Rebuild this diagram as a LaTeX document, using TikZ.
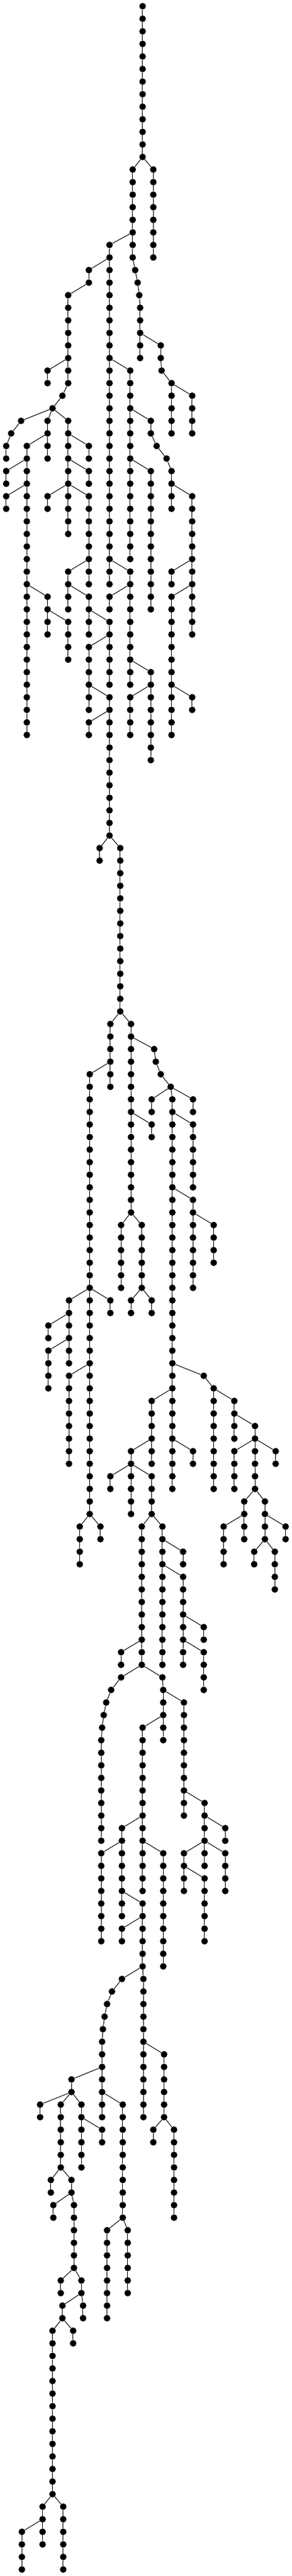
\documentclass[tikz,border=0pt]{standalone}

\tikzset{
  dot/.style={circle,fill=black,inner sep=0pt,minimum size=10.7pt},
  link/.style={line width=1pt}
}

% name, parent, x, first level, last level
\newcommand{\chain}[5]{
  \node[dot] (#1-#4) at (#3,#4) {};
  \ifx\relax#2\relax\else\draw[link] (#2) -- (#1-#4);\fi
  \foreach \lev [remember=\lev as \prv (initially #4)] in {#4,...,#5}{
    \ifnum\lev>#4
      \node[dot] (#1-\lev) at (#3,\lev) {};
      \draw[link] (#1-\prv) -- (#1-\lev);
    \fi
  }
}

\begin{document}
\begin{tikzpicture}[x=0.33333pt,y=-20.267pt]

\useasboundingbox (0,-0.493) rectangle (1413,204.52);

%top part
\chain{s1}{}{690}{0}{12}
\chain{s2}{s1-12}{642}{13}{20}
\chain{s3}{s1-12}{742}{13}{20}
\chain{s4}{s2-20}{654}{21}{21}
\chain{s5}{s4-21}{666}{22}{22}
\chain{s6}{s5-22}{674}{23}{23}
\chain{s7}{s6-23}{678}{24}{28}
\chain{s8}{s7-26}{778}{27}{28}
\chain{s9}{s8-28}{782}{29}{29}
\chain{s10}{s9-29}{830}{30}{34}
\chain{s11}{s10-30}{930}{31}{34}
\chain{s12}{s2-18}{530}{19}{46}
\chain{s13}{s12-20}{430}{21}{22}
\chain{s14}{s13-22}{330}{23}{30}
\chain{s15}{s14-28}{230}{29}{30}
\chain{s16}{s14-30}{302}{31}{31}
\chain{s17}{s16-31}{254}{32}{32}
\chain{s18}{s17-32}{102}{33}{33}
\chain{s19}{s18-33}{54}{34}{34}
\chain{s20}{s19-34}{30}{35}{36}
\chain{s21}{s17-32}{230}{33}{36}
\chain{s22}{s21-34}{130}{35}{58}
\chain{s23}{s22-36}{30}{37}{38}
\chain{s24}{s22-38}{30}{39}{40}
\chain{s25}{s22-46}{230}{47}{50}
\chain{s26}{s25-48}{330}{49}{52}
\chain{s27}{s17-32}{330}{33}{42}
\chain{s28}{s27-34}{430}{35}{36}
\chain{s29}{s27-36}{430}{37}{38}
\chain{s30}{s27-38}{230}{39}{40}
\chain{s31}{s27-38}{430}{39}{46}
\chain{s32}{s31-44}{330}{45}{48}
\chain{s33}{s32-46}{430}{47}{50}
\chain{s34}{s33-48}{530}{49}{54}
\chain{s35}{s34-50}{430}{51}{56}
\chain{s36}{s35-54}{530}{55}{66}
\chain{s37}{s36-56}{430}{57}{58}
\chain{s38}{s36-66}{482}{67}{68}
\chain{s39}{s36-66}{582}{67}{80}
\chain{s40}{s12-28}{630}{29}{44}
\chain{s41}{s40-32}{730}{33}{34}
\chain{s42}{s41-34}{758}{35}{35}
\chain{s43}{s42-35}{806}{36}{36}
\chain{s44}{s43-36}{830}{37}{40}
\chain{s45}{s44-38}{930}{39}{50}
\chain{s46}{s45-44}{830}{45}{46}
\chain{s47}{s45-46}{830}{47}{58}
\chain{s48}{s47-54}{930}{55}{56}
\chain{s49}{s40-36}{730}{37}{48}
\chain{s50}{s12-44}{630}{45}{54}
\chain{s51}{s50-46}{530}{47}{48}
\chain{s52}{s50-52}{730}{53}{60}
\chain{s53}{s52-54}{630}{55}{58}

%middle part
\chain{s54}{s39-80}{534}{81}{86}
\chain{s55}{s54-84}{434}{85}{102}
\chain{s56}{s39-80}{634}{81}{96}
\chain{s57}{s56-82}{746}{83}{83}
\chain{s58}{s57-83}{754}{84}{84}
\chain{s59}{s58-84}{778}{85}{85}
\chain{s60}{s59-85}{826}{86}{86}
\chain{s61}{s60-86}{734}{87}{88}
\chain{s62}{s60-86}{834}{87}{118}
\chain{s63}{s60-86}{934}{87}{88}
\chain{s64}{s56-88}{734}{89}{90}
\chain{s65}{s56-96}{586}{97}{102}
\chain{s66}{s56-96}{686}{97}{102}
\chain{s67}{s66-102}{634}{103}{104}
\chain{s68}{s66-102}{734}{103}{104}
\chain{s69}{s62-88}{934}{89}{94}
\chain{s70}{s62-94}{934}{95}{102}
\chain{s71}{s70-96}{1034}{97}{100}
\chain{s72}{s55-102}{334}{103}{108}
\chain{s73}{s55-102}{434}{103}{120}
\chain{s74}{s55-102}{534}{103}{104}
\chain{s75}{s72-104}{234}{105}{106}
\chain{s76}{s72-106}{234}{107}{110}
\chain{s77}{s73-108}{334}{109}{116}
\chain{s78}{s73-120}{386}{121}{124}
\chain{s79}{s73-120}{486}{121}{122}
\chain{s80}{s62-108}{986}{109}{109}
\chain{s81}{s80-109}{1034}{110}{118}
\chain{s82}{s81-110}{1134}{111}{114}
\chain{s83}{s82-112}{1234}{113}{118}
\chain{s84}{s83-114}{1134}{115}{118}
\chain{s85}{s83-114}{1334}{115}{116}
\chain{s86}{s83-118}{1182}{119}{122}
\chain{s87}{s83-118}{1282}{119}{122}
\chain{s88}{s86-120}{1082}{121}{124}
\chain{s89}{s87-120}{1382}{121}{122}
\chain{s90}{s87-122}{1230}{123}{124}
\chain{s91}{s87-122}{1330}{123}{126}
\chain{s92}{s62-110}{734}{111}{116}
\chain{s93}{s62-114}{934}{115}{116}
\chain{s94}{s92-114}{634}{115}{120}
\chain{s95}{s94-116}{534}{117}{118}
\chain{s96}{s94-116}{734}{117}{120}

%lower part
\chain{s97}{s96-120}{686}{121}{132}
\chain{s98}{s96-120}{786}{121}{132}
\chain{s99}{s97-130}{586}{131}{132}
\chain{s100}{s98-122}{886}{123}{124}
\chain{s101}{s98-124}{886}{125}{132}
\chain{s102}{s101-128}{986}{129}{130}
\chain{s103}{s101-130}{986}{131}{134}
\chain{s104}{s97-132}{586}{133}{133}
\chain{s105}{s97-132}{786}{133}{133}
\chain{s106}{s104-133}{538}{134}{134}
\chain{s107}{s106-134}{514}{135}{135}
\chain{s108}{s107-135}{502}{136}{136}
\chain{s109}{s108-136}{494}{137}{137}
\chain{s110}{s109-137}{490}{138}{146}
\chain{s111}{s105-133}{790}{134}{138}
\chain{s112}{s111-134}{890}{135}{144}
\chain{s113}{s111-136}{690}{137}{150}
\chain{s114}{s113-144}{590}{145}{152}
\chain{s115}{s114-146}{490}{147}{154}
\chain{s116}{s114-150}{690}{151}{156}
\chain{s117}{s116-152}{590}{153}{154}
\chain{s118}{s113-146}{790}{147}{156}
\chain{s119}{s112-142}{990}{143}{148}
\chain{s120}{s119-144}{1090}{145}{146}
\chain{s121}{s119-146}{890}{147}{150}
\chain{s122}{s119-146}{1090}{147}{150}
\chain{s123}{s121-148}{990}{149}{154}
\chain{s124}{s116-156}{590}{157}{157}
\chain{s125}{s124-157}{542}{158}{158}
\chain{s126}{s125-158}{518}{159}{159}
\chain{s127}{s126-159}{506}{160}{160}
\chain{s128}{s127-160}{498}{161}{161}
\chain{s129}{s128-161}{494}{162}{168}
\chain{s130}{s116-156}{694}{157}{168}
\chain{s131}{s130-162}{794}{163}{168}
\chain{s132}{s131-168}{742}{169}{170}
\chain{s133}{s131-168}{842}{169}{176}
\chain{s134}{s129-164}{346}{165}{166}
\chain{s135}{s134-166}{194}{167}{168}
\chain{s136}{s134-166}{294}{167}{172}
\chain{s137}{s134-166}{394}{167}{172}
\chain{s138}{s137-168}{494}{169}{170}
\chain{s139}{s129-166}{594}{167}{176}
\chain{s140}{s139-176}{518}{177}{184}
\chain{s141}{s139-176}{618}{177}{182}
\chain{s142}{s136-172}{246}{173}{174}
\chain{s143}{s136-172}{346}{173}{174}
\chain{s144}{s143-174}{258}{175}{176}
\chain{s145}{s143-174}{358}{175}{180}
\chain{s146}{s145-180}{294}{181}{182}
\chain{s147}{s145-180}{394}{181}{182}
\chain{s148}{s147-182}{302}{183}{184}
\chain{s149}{s147-182}{402}{183}{184}
\chain{s150}{s148-184}{254}{185}{198}
\chain{s151}{s148-184}{354}{185}{186}
\chain{s152}{s150-198}{206}{199}{202}
\chain{s153}{s150-198}{306}{199}{204}
\chain{s154}{s152-200}{106}{201}{204}

\end{tikzpicture}
\end{document}
